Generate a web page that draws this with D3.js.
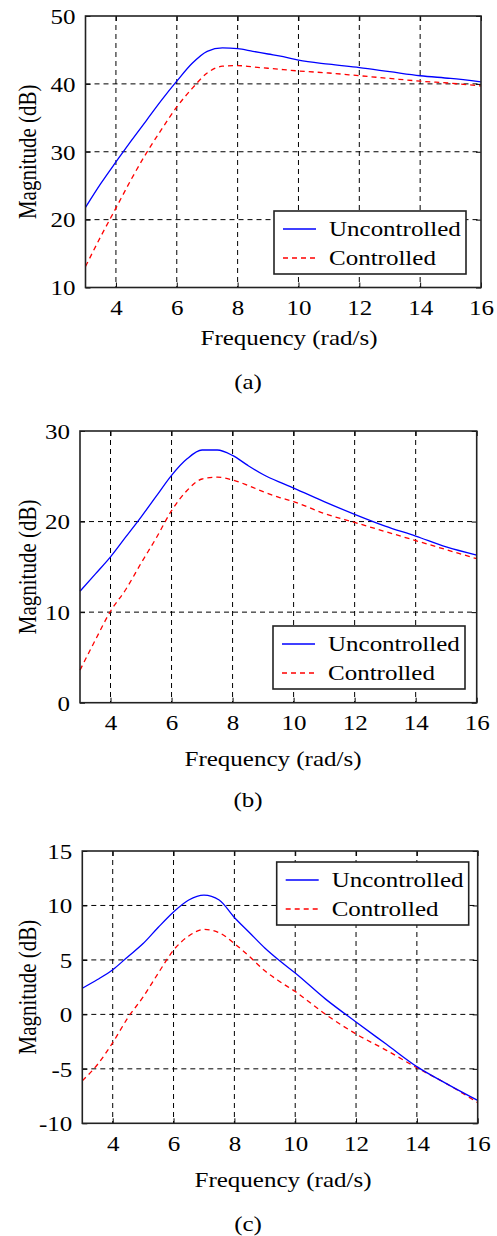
<!DOCTYPE html>
<html>
<head>
<meta charset="utf-8">
<script src="https://cdn.jsdelivr.net/npm/d3@7"></script>
<style>
body { margin: 0; background: #fff; }
svg text { font-family: "Liberation Serif", "Times New Roman", serif; fill: #000; }
</style>
</head>
<body>
<div id="chart-container"></div>
<script>
// frequency points (rad/s), same for all three panels
const freq = [3, 3.5, 4, 4.5, 5, 5.5, 6, 6.5, 7, 7.5, 8, 8.5, 9, 9.5, 10, 11, 12, 13, 14, 15, 16];

// (a)
const aUncontrolled = [21.8, 25.3, 28.5, 31.6, 34.6, 37.6, 40.4, 43.0, 44.8, 45.3, 45.2, 44.8, 44.4, 44.0, 43.5, 42.9, 42.4, 41.8, 41.2, 40.8, 40.3];
const aControlled   = [13.1, 17.5, 21.7, 25.9, 29.8, 33.3, 36.6, 39.3, 41.6, 42.6, 42.7, 42.5, 42.3, 42.1, 41.9, 41.6, 41.2, 40.8, 40.4, 40.1, 39.7];
// (b)
const bUncontrolled = [12.3, 14.2, 16.1, 18.3, 20.5, 22.8, 25.1, 26.9, 27.9, 27.9, 27.3, 26.2, 25.2, 24.4, 23.7, 22.2, 20.8, 19.5, 18.4, 17.2, 16.3];
const bControlled   = [3.6, 6.9, 10.1, 12.5, 15.4, 18.2, 21.2, 23.4, 24.7, 24.9, 24.6, 24.0, 23.3, 22.7, 22.2, 20.9, 19.9, 18.9, 17.9, 16.9, 15.9];
// (c)
const cUncontrolled = [2.4, 3.2, 4.1, 5.3, 6.5, 8.0, 9.4, 10.5, 10.95, 10.5, 8.9, 7.5, 6.1, 4.9, 3.8, 1.4, -0.7, -2.75, -4.8, -6.4, -7.9];
const cControlled   = [-6.1, -4.6, -2.6, -0.3, 1.6, 3.8, 5.9, 7.2, 7.8, 7.5, 6.5, 5.3, 4.0, 3.0, 2.1, 0.0, -1.8, -3.3, -4.9, -6.4, -8.1];

const xTicks = [4, 6, 8, 10, 12, 14, 16];
const aTicks = [10, 20, 30, 40, 50];
const bTicks = [0, 10, 20, 30];
const cTicks = [-10, -5, 0, 5, 10, 15];
const seriesNames = ["Uncontrolled", "Controlled"];
const captions = ["(a)", "(b)", "(c)"];

const width = 497, height = 1236;
const stretch = 1.19; // the picture is widened sideways, so is its text
const fontSize = 21;

const svg = d3.select("#chart-container")
    .append("svg")
    .attr("width", width)
    .attr("height", height);

const panels = [
    { left: 85.5, right: 481, top: 16, bottom: 287.5, yTicks: aTicks, up: aUncontrolled, ctl: aControlled,
      legX: 274, legY: 211, xlabX: 289, xlabY: 50, capY: 94.5, caption: captions[0] },
    { left: 80, right: 476.7, top: 431, bottom: 702.7, yTicks: bTicks, up: bUncontrolled, ctl: bControlled,
      legX: 273, legY: 626, xlabX: 273, xlabY: 56.3, capY: 97, caption: captions[1] },
    { left: 82.3, right: 477.7, top: 851, bottom: 1123.3, yTicks: cTicks, up: cUncontrolled, ctl: cControlled,
      legX: 276.7, legY: 862, xlabX: 283, xlabY: 56.7, capY: 100, caption: captions[2] }
];

function label(g, x, y, txt, extra) {
    return g.append("text")
        .attr("transform", `translate(${x},${y}) scale(${stretch},1)` + (extra || ""))
        .attr("dy", "0.35em")
        .attr("text-anchor", "middle")
        .style("font-size", fontSize + "px")
        .text(txt);
}

function drawPanel(p) {
    const g = svg.append("g");
    const x = d3.scaleLinear().domain([3, 16]).range([p.left, p.right]);
    const y = d3.scaleLinear().domain(d3.extent(p.yTicks)).range([p.bottom, p.top]);
    const plain = d => String(d); // hyphen minus, as in the picture

    // dashed grid
    g.selectAll(".vgrid")
        .data(xTicks.filter(t => t < 16))
        .enter()
        .append("line")
        .attr("x1", d => x(d)).attr("x2", d => x(d))
        .attr("y1", p.top).attr("y2", p.bottom)
        .attr("stroke", "#000").attr("stroke-width", 1).attr("stroke-dasharray", "5,4");
    g.selectAll(".hgrid")
        .data(p.yTicks.slice(1, -1))
        .enter()
        .append("line")
        .attr("x1", p.left).attr("x2", p.right)
        .attr("y1", d => y(d)).attr("y2", d => y(d))
        .attr("stroke", "#000").attr("stroke-width", 1).attr("stroke-dasharray", "5,4");

    const line = d3.line().x((d, i) => x(freq[i])).y(d => y(d)).curve(d3.curveMonotoneX);
    g.append("path").datum(p.ctl).attr("d", line)
        .attr("fill", "none").attr("stroke", "#ff0000").attr("stroke-width", 1.3).attr("stroke-dasharray", "5,4");
    g.append("path").datum(p.up).attr("d", line)
        .attr("fill", "none").attr("stroke", "#0000ff").attr("stroke-width", 1.3);

    // axes, ticks pointing in
    const bottom = g.append("g").attr("transform", `translate(0,${p.bottom})`)
        .call(d3.axisBottom(x).tickValues(xTicks).tickSize(-5).tickSizeOuter(0).tickFormat(plain));
    bottom.selectAll("text").attr("y", 20).attr("dy", "0.35em")
        .attr("transform", `scale(${stretch},1)`).style("font-size", fontSize + "px");

    const left = g.append("g").attr("transform", `translate(${p.left},0)`)
        .call(d3.axisLeft(y).tickValues(p.yTicks).tickSize(-5).tickSizeOuter(0).tickFormat(plain));
    left.selectAll("text").attr("x", -10 / stretch).attr("dy", "0.35em")
        .attr("transform", `scale(${stretch},1)`).style("font-size", fontSize + "px");

    g.append("g").attr("transform", `translate(0,${p.top})`)
        .call(d3.axisTop(x).tickValues(xTicks).tickSize(-5).tickSizeOuter(0).tickFormat(""));
    g.append("g").attr("transform", `translate(${p.right},0)`)
        .call(d3.axisRight(y).tickValues(p.yTicks).tickSize(-5).tickSizeOuter(0).tickFormat(""));

    g.selectAll(".domain").remove();
    g.selectAll(".tick line").attr("stroke", "#000");

    g.append("rect")
        .attr("x", p.left).attr("y", p.top)
        .attr("width", p.right - p.left).attr("height", p.bottom - p.top)
        .attr("fill", "none").attr("stroke", "#222").attr("stroke-width", 1.6);

    // legend
    const lg = g.append("g").attr("transform", `translate(${p.legX},${p.legY})`);
    lg.append("rect").attr("width", 192).attr("height", 63)
        .attr("fill", "#fff").attr("stroke", "#222").attr("stroke-width", 1.6);
    const rows = [{ c: "#0000ff", dash: null }, { c: "#ff0000", dash: "5,4" }];
    rows.forEach((r, i) => {
        const ry = 18 + i * 29;
        lg.append("line").attr("x1", 9).attr("x2", 42).attr("y1", ry).attr("y2", ry)
            .attr("stroke", r.c).attr("stroke-width", 1.3).attr("stroke-dasharray", r.dash);
        label(lg, 55, ry, seriesNames[i]).attr("text-anchor", "start");
    });

    label(g, p.xlabX, p.bottom + p.xlabY, "Frequency (rad/s)");
    label(g, 27, (p.top + p.bottom) / 2, "Magnitude (dB)", " rotate(-90)");
    label(g, 248, p.bottom + p.capY, p.caption);
}

panels.forEach(drawPanel);
</script>
</body>
</html>
